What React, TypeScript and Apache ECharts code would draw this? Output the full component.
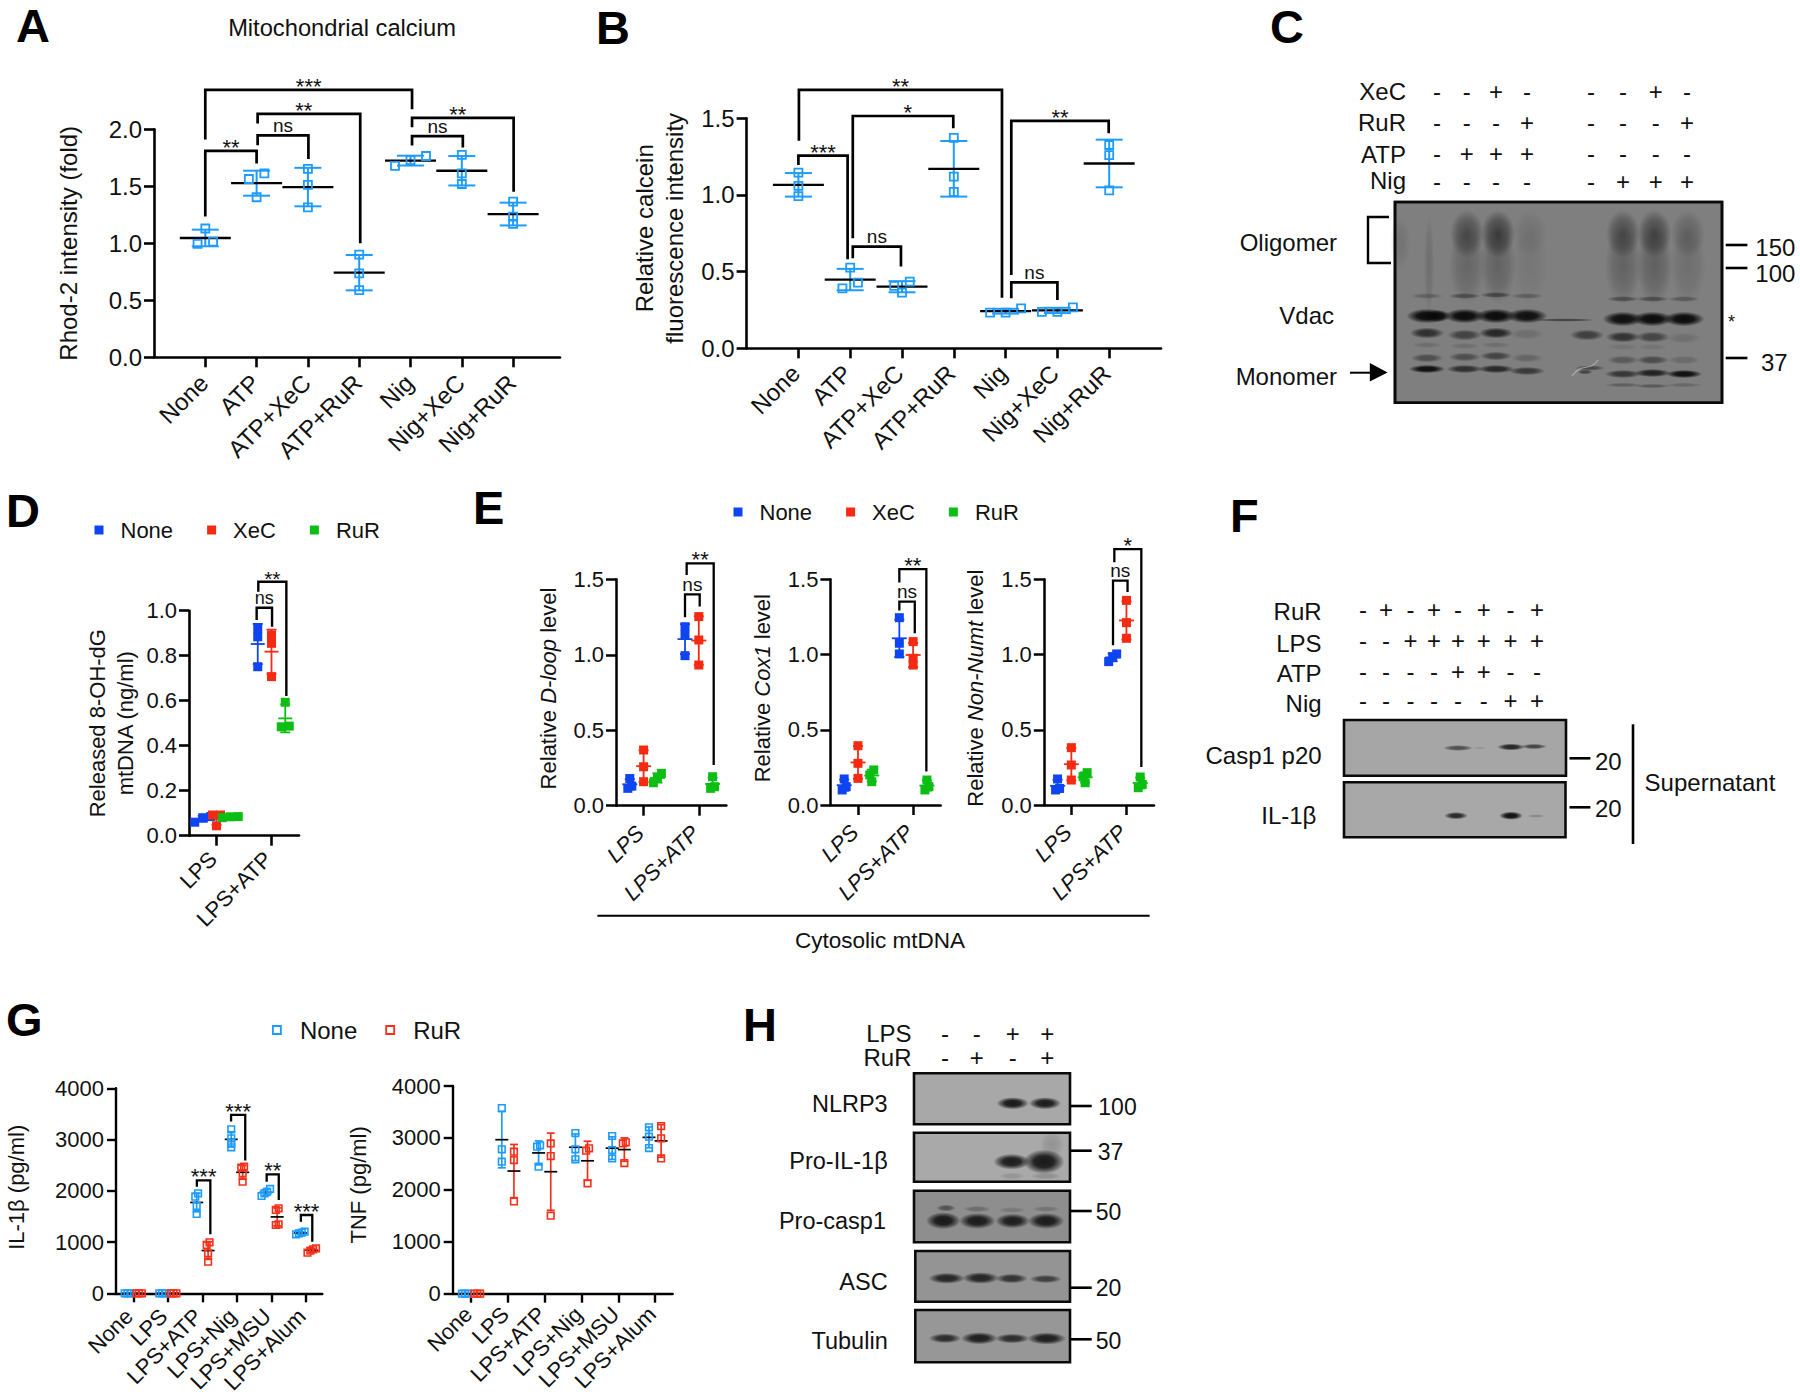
import React, { useEffect, useRef } from "react";
import * as echarts from "echarts";

const FONT = "Liberation Sans";
const BLUE = "#1E9BFF";
const RED = "#F5301A";
const F_BLUE = "#0F45F0";
const F_RED = "#F52A12";
const F_GREEN = "#0CBE14";

const aCategories = ["None", "ATP", "ATP+XeC", "ATP+RuR", "Nig", "Nig+XeC", "Nig+RuR"];
const aValues = [
  [1.13, 0.995, 1.015],
  [1.614, 1.564, 1.404],
  [1.652, 1.512, 1.316],
  [0.9, 0.737, 0.59],
  [1.766, 1.73, 1.68],
  [1.775, 1.614, 1.52],
  [1.366, 1.234, 1.17],
];
const aBrackets: any[] = [
  [1, 5.03, 1.91, 2.175, 2.345, "***"],
  [2.02, 4.02, 2.05, 1.0, 2.135, "**", 2.92],
  [2.02, 3.01, 1.86, 1.74, 1.947, "ns"],
  [1, 2, 1.234, 1.7, 1.81, "**"],
  [5.03, 7.01, 2.017, 1.453, 2.1, "**", 5.92],
  [5.03, 6.02, 1.857, 1.84, 1.94, "ns"],
];

const bValues = [
  [1.146, 1.059, 0.993],
  [0.526, 0.428, 0.391],
  [0.435, 0.407, 0.363],
  [1.372, 1.12, 1.02],
  [0.26, 0.233, 0.233],
  [0.267, 0.237, 0.237],
  [1.326, 1.26, 1.03],
];
const bBrackets: any[] = [
  [1.01, 4.93, 1.354, 0.33, 1.685, "**"],
  [2.05, 3.99, 0.717, 1.435, 1.515, "*", 3.11],
  [5.11, 6.99, 0.478, 1.402, 1.483, "**"],
  [1, 1.95, 1.196, 0.58, 1.257, "***"],
  [2.05, 2.98, 0.587, 0.533, 0.663, "ns"],
  [5.11, 6.0, 0.326, 0.315, 0.43, "ns"],
];

const mtCategories = ["LPS", "LPS+ATP"];
const dNone = [[0.06, 0.08, 0.085], [0.921, 0.884, 0.751]];
const dXeC = [[0.092, 0.092, 0.044], [0.892, 0.855, 0.707]];
const dRuR = [[0.085, 0.084, 0.08], [0.593, 0.487, 0.484]];
const dBrackets: any[] = [
  [1.73, 2.01, 0.959, 0.929, 1.013, "ns"],
  [1.76, 2.27, 1.084, 0.621, 1.129, "**"],
];

const e1None = [[0.18, 0.13, 0.115], [1.186, 1.131, 0.994]];
const e1XeC = [[0.369, 0.258, 0.159], [1.253, 1.098, 0.932]];
const e1RuR = [[0.214, 0.186, 0.152], [0.192, 0.126, 0.115]];
const e1Brackets: any[] = [
  [1.75, 2.016, 1.248, 1.319, 1.4, "ns"],
  [1.78, 2.27, 1.529, 0.27, 1.606, "**"],
];
const e2None = [[0.173, 0.122, 0.1], [1.245, 1.075, 1.004]];
const e2XeC = [[0.394, 0.277, 0.177], [1.086, 0.975, 0.93]];
const e2RuR = [[0.233, 0.2, 0.155], [0.166, 0.122, 0.1]];
const e2Brackets: any[] = [
  [1.75, 2.03, 1.292, 1.141, 1.352, "ns"],
  [1.75, 2.24, 1.478, 0.222, 1.567, "**"],
];
const e3None = [[0.173, 0.11, 0.1], [1.004, 0.986, 0.953]];
const e3XeC = [[0.381, 0.266, 0.166], [1.36, 1.212, 1.108]];
const e3RuR = [[0.215, 0.188, 0.148], [0.186, 0.137, 0.115]];
const e3Brackets: any[] = [
  [1.756, 2.02, 1.061, 1.416, 1.491, "ns"],
  [1.78, 2.27, 1.614, 0.252, 1.7, "*"],
];

const gCategories = ["None", "LPS", "LPS+ATP", "LPS+Nig", "LPS+MSU", "LPS+Alum"];
const ilNone = [
  [0, 0, 0],
  [0, 0, 0],
  [1951, 1886, 1704, 1548],
  [3200, 3024, 2940, 2849],
  [2036, 1984, 1951, 1899],
  [1203, 1184, 1171, 1151],
];
const ilRuR = [
  [0, 0, 0],
  [0, 0, 0],
  [995, 943, 780, 618],
  [2471, 2452, 2341, 2179],
  [1658, 1626, 1346, 1333],
  [878, 859, 832, 793],
];
const ilBrackets: any[] = [
  [2.84, 3.23, 2081, 1151, 2205, "***"],
  [3.83, 4.24, 3350, 2589, 3480, "***"],
  [4.86, 5.21, 2179, 1821, 2322, "**"],
  [5.85, 6.18, 1398, 1008, 1528, "***"],
];
const tnfNone = [
  [0, 0, 0],
  [3576, 2780, 2542],
  [2857, 2831, 2446],
  [3094, 2780, 2587],
  [3037, 2767, 2606],
  [3204, 3024, 2805],
];
const tnfRuR = [
  [0, 0, 0],
  [2735, 2574, 1778],
  [2895, 2651, 1502],
  [2799, 2754, 2125],
  [2915, 2895, 2516],
  [3229, 2992, 2606],
];

// Treatment rows printed above the blots
const cRows: [string, string][] = [
  ["XeC", "--+---+-"],
  ["RuR", "---+---+"],
  ["ATP", "-+++----"],
  ["Nig", "-----+++"],
];
const fRows: [string, string][] = [
  ["RuR", "-+-+-+-+"],
  ["LPS", "--++++++"],
  ["ATP", "----++--"],
  ["Nig", "------++"],
];
const hRows: [string, string][] = [
  ["LPS", "--++"],
  ["RuR", "-+-+"],
];

const mean = (v: number[]) => v.reduce((a, b) => a + b, 0) / v.length;
const sd = (v: number[]) => {
  const m = mean(v);
  return Math.sqrt(v.reduce((a, b) => a + (b - m) * (b - m), 0) / (v.length - 1));
};

// Swarm placement: values closer than tol pixels sit side by side.
function swarm(values: number[], pxY: number, tol: number, step: number) {
  const order = values.map((v, i) => [v, i]).sort((a, b) => a[0] - b[0]);
  const out = new Array(values.length).fill(0);
  let start = 0;
  for (let i = 1; i <= order.length; i++) {
    if (i === order.length || (order[i][0] - order[i - 1][0]) * pxY > tol) {
      const n = i - start;
      for (let k = 0; k < n; k++) out[order[start + k][1]] = (k - (n - 1) / 2) * step;
      start = i;
    }
  }
  return out;
}

function txt(x: number, y: number, text: string, align = "left", size = 24, extra: any = {}) {
  return {
    type: "text",
    x,
    y,
    silent: true,
    style: {
      text,
      fontSize: size,
      fontFamily: FONT,
      fill: "#111",
      align,
      textAlign: align,
      verticalAlign: "middle",
      textVerticalAlign: "middle",
      ...extra,
    },
  };
}
function seg(x1: number, y1: number, x2: number, y2: number, w = 2.5) {
  return { type: "line", silent: true, shape: { x1, y1, x2, y2 }, style: { stroke: "#000", lineWidth: w } };
}
function box(x1: number, y1: number, x2: number, y2: number, fill: string) {
  return {
    type: "rect",
    silent: true,
    shape: { x: x1, y: y1, width: x2 - x1, height: y2 - y1 },
    style: { fill, stroke: "#0a0a0a", lineWidth: 2.6 },
  };
}
function band(cx: number, cy: number, rx: number, ry: number, a: number) {
  return {
    type: "ellipse",
    silent: true,
    shape: { cx, cy, rx: rx * 1.08, ry: ry * 1.22 },
    style: {
      fill: {
        type: "radial",
        x: 0.5,
        y: 0.5,
        r: 0.5,
        colorStops: [
          { offset: 0, color: `rgba(8,8,8,${a})` },
          { offset: 0.48, color: `rgba(8,8,8,${a * 0.92})` },
          { offset: 0.78, color: `rgba(8,8,8,${a * 0.42})` },
          { offset: 1, color: "rgba(8,8,8,0)" },
        ],
      },
    },
  };
}
function smear(cx: number, cy: number, rx: number, ry: number, a: number) {
  return {
    type: "ellipse",
    silent: true,
    shape: { cx, cy, rx, ry },
    style: {
      fill: {
        type: "radial",
        x: 0.5,
        y: 0.5,
        r: 0.5,
        colorStops: [
          { offset: 0, color: `rgba(20,20,20,${a})` },
          { offset: 0.6, color: `rgba(20,20,20,${a * 0.6})` },
          { offset: 1, color: "rgba(20,20,20,0)" },
        ],
      },
    },
  };
}
function signs(rows: [string, string][], xs: number[], ys: number[], labelX: number, labelYs: number[]) {
  const out: any[] = [];
  rows.forEach(([name, row], r) => {
    out.push(txt(labelX, labelYs[r], name, "right", 24));
    row.split("").forEach((ch, i) => out.push(txt(xs[i], ys[r], ch, "center", 24)));
  });
  return out;
}

const grids: any[] = [];
const xAxes: any[] = [];
const yAxes: any[] = [];
const series: any[] = [];

function addPanel(p: any) {
  const idx = grids.length;
  grids.push({ left: p.left, top: p.top, width: p.width, height: p.height, containLabel: false });
  const ticks = p.categories.map((_: string, i: number) => i + 1);
  const lw = p.lw ?? 2.6;
  xAxes.push({
    gridIndex: idx,
    type: "value",
    min: p.xMin,
    max: p.xMax,
    splitLine: { show: false },
    axisLine: { show: true, onZero: false, lineStyle: { color: "#000", width: lw } },
    axisTick: { show: true, length: p.tick ?? 10, lineStyle: { color: "#000", width: lw }, customValues: ticks },
    axisLabel: {
      customValues: ticks,
      rotate: 45,
      margin: p.xMargin ?? 14,
      padding: [0, p.xPad ?? 0, 0, 0],
      fontSize: p.xFont ?? p.fontSize ?? 22,
      fontFamily: FONT,
      fontStyle: p.italicX ? "italic" : "normal",
      color: "#111",
      formatter: (v: number) => p.categories[Math.round(v) - 1],
    },
  });
  yAxes.push({
    gridIndex: idx,
    type: "value",
    min: 0,
    max: p.yMax,
    interval: p.yInterval,
    splitLine: { show: false },
    axisLine: { show: true, onZero: false, lineStyle: { color: "#000", width: lw } },
    axisTick: { show: true, length: p.tick ?? 10, lineStyle: { color: "#000", width: lw } },
    axisLabel: {
      margin: p.yMargin ?? 12,
      fontSize: p.fontSize ?? 22,
      fontFamily: FONT,
      color: "#111",
      formatter: (v: number) => v.toFixed(p.decimals),
    },
    name: p.yName,
    nameLocation: "middle",
    nameGap: p.nameGap,
    nameRotate: 90,
    nameTextStyle: {
      fontSize: p.nameSize ?? 22,
      fontFamily: FONT,
      color: "#111",
      lineHeight: p.nameLine ?? 30,
      padding: [0, 0, 0, p.nameShift ?? 0],
      rich: { i: { fontStyle: "italic", fontSize: p.nameSize ?? 22, fontFamily: FONT, color: "#111" } },
    },
  });
  const pxY = p.height / p.yMax;
  const pxX = p.width / (p.xMax - p.xMin);
  p.groups.forEach((g: any) => {
    const stats = g.values.map((v: number[], i: number) => [i + 1 + (g.dodge ?? 0), mean(v), sd(v)]);
    series.push({
      type: "custom",
      coordinateSystem: "cartesian2d",
      xAxisIndex: idx,
      yAxisIndex: idx,
      silent: true,
      z: 2,
      data: stats,
      renderItem: (_: any, api: any) => {
        const x = api.value(0);
        const m = api.value(1);
        const s = api.value(2);
        const top = api.coord([x, m + s]);
        const bot = api.coord([x, m - s]);
        const mid = api.coord([x, m]);
        const lineStyle = { stroke: g.color, lineWidth: p.barW ?? 2 };
        const hl = (pt: number[], w: number, style: any) => ({
          type: "line",
          shape: { x1: pt[0] - w / 2, y1: pt[1], x2: pt[0] + w / 2, y2: pt[1] },
          style,
        });
        return {
          type: "group",
          children: [
            { type: "line", shape: { x1: top[0], y1: top[1], x2: bot[0], y2: bot[1] }, style: lineStyle },
            hl(top, p.capW, lineStyle),
            hl(bot, p.capW, lineStyle),
            hl(mid, p.meanW, { stroke: p.meanColor ?? g.color, lineWidth: p.meanLw ?? 2.3 }),
          ],
        };
      },
    });
    const pts: number[][] = [];
    g.values.forEach((v: number[], i: number) => {
      const off = swarm(v, pxY, p.tol, p.step);
      v.forEach((y, k) => pts.push([i + 1 + (g.dodge ?? 0) + off[k] / pxX, y]));
    });
    series.push({
      type: "scatter",
      name: g.name,
      xAxisIndex: idx,
      yAxisIndex: idx,
      silent: true,
      clip: false,
      z: 3,
      symbol: "rect",
      symbolSize: p.size,
      data: pts,
      itemStyle: g.filled
        ? { color: g.color, opacity: 1 }
        : { color: "rgba(255,255,255,0)", borderColor: g.color, borderWidth: p.border ?? 1.8, opacity: 1 },
    });
  });
  if (p.brackets) {
    const br = p.brackets;
    series.push({
      type: "custom",
      coordinateSystem: "cartesian2d",
      xAxisIndex: idx,
      yAxisIndex: idx,
      silent: true,
      z: 4,
      data: br.map((b: any[]) => b.slice(0, 5)),
      renderItem: (params: any, api: any) => {
        const [x1, x2, yl, yr, top, label, lx] = br[params.dataIndex];
        const pts = [api.coord([x1, yl]), api.coord([x1, top]), api.coord([x2, top]), api.coord([x2, yr])];
        const at = api.coord([lx ?? (x1 + x2) / 2, top]);
        const isNs = label === "ns";
        return {
          type: "group",
          children: [
            { type: "polyline", shape: { points: pts }, style: { fill: "none", stroke: "#000", lineWidth: p.brW ?? 2.7 } },
            {
              type: "text",
              x: at[0],
              y: at[1] - (isNs ? 10 : 3.5),
              style: {
                text: label,
                fontSize: isNs ? p.nsSize ?? 19 : p.starSize ?? 22,
                fontFamily: FONT,
                fill: "#111",
                align: "center",
                textAlign: "center",
                verticalAlign: "middle",
                textVerticalAlign: "middle",
              },
            },
          ],
        };
      },
    });
  }
}

const hollow = (color: string, name: string, values: number[][], dodge: number) => ({ name, color, values, dodge, filled: false });
const solid = (color: string, name: string, values: number[][], dodge: number) => ({ name, color, values, dodge, filled: true });

addPanel({
  left: 154, top: 129.3, width: 406, height: 228, xMin: 0, xMax: 7.914, yMax: 2, yInterval: 0.5, decimals: 1,
  categories: aCategories, yName: "Rhod-2 intensity (fold)", nameGap: 71, nameSize: 24, fontSize: 24, xMargin: 20, xPad: 2,
  groups: [hollow(BLUE, "A", aValues, 0)], meanColor: "#000", meanW: 51, capW: 27, size: 8, tol: 6, step: 15.5, brackets: aBrackets,
});
addPanel({
  left: 746.6, top: 118.3, width: 414.4, height: 230, xMin: 0, xMax: 8, yMax: 1.5, yInterval: 0.5, decimals: 1,
  categories: aCategories, yName: "Relative calcein\nfluorescence intensity", nameGap: 57, nameSize: 24, fontSize: 24, nameShift: 10, xMargin: 18, xPad: 4,
  groups: [hollow(BLUE, "B", bValues, 0)], meanColor: "#000", meanW: 51, capW: 27, size: 8, tol: 6, step: 15.5, brackets: bBrackets,
});
addPanel({
  left: 189, top: 610.7, width: 110, height: 225, xMin: 0.5, xMax: 2.5, yMax: 1, yInterval: 0.2, decimals: 1,
  categories: mtCategories, yName: "Released 8-OH-dG\nmtDNA (ng/ml)", nameGap: 50, nameLine: 28, xMargin: 16, xPad: 5,
  groups: [solid(F_BLUE, "None", dNone, -0.25), solid(F_RED, "XeC", dXeC, 0), solid(F_GREEN, "RuR", dRuR, 0.25)],
  meanW: 14, capW: 10, size: 9, tol: 5, step: 8, brackets: dBrackets, brW: 2.4, barW: 1.8, meanLw: 1.8, nsSize: 18, starSize: 21,
});
const ePanel = (left: number, width: number, height: number, yName: string, n: number[][], x: number[][], r: number[][], brackets: any[]) =>
  addPanel({
    left, top: 579.3, width, height, xMin: 0.5, xMax: 2.5, yMax: 1.5, yInterval: 0.5, decimals: 1, italicX: true,
    categories: mtCategories, yName, nameGap: 53, nameShift: 8, xMargin: 20, xPad: 5,
    groups: [solid(F_BLUE, "None", n, -0.25), solid(F_RED, "XeC", x, 0), solid(F_GREEN, "RuR", r, 0.25)],
    meanW: 15, capW: 10, size: 9, tol: 5.5, step: 4, brackets, brW: 2.3, barW: 1.8, meanLw: 1.8, lw: 2.5,
  });
ePanel(616, 110.4, 226.4, "Relative {i|D-loop} level", e1None, e1XeC, e1RuR, e1Brackets);
ePanel(830.4, 110.3, 225.7, "Relative {i|Cox1} level", e2None, e2XeC, e2RuR, e2Brackets);
ePanel(1043.8, 110.2, 225.7, "Relative {i|Non-Numt} level", e3None, e3XeC, e3RuR, e3Brackets);
addPanel({
  left: 105.3, top: 1088.3, width: 217, height: 205, xMin: 0.5, xMax: 6.47, yMax: 4000, yInterval: 1000, decimals: 0,
  categories: gCategories, yName: "IL-1\u03B2 (pg/ml)", nameGap: 85, nameShift: 7, xMargin: 15, xPad: 6,
  groups: [hollow(BLUE, "None", ilNone, -0.165), hollow(RED, "RuR", ilRuR, 0.165)],
  meanColor: "#000", meanW: 13, capW: 8, size: 6.6, tol: 3.4, step: 3, brackets: ilBrackets, brW: 2.3, barW: 1.7, meanLw: 1.7, border: 1.6, lw: 2.4, tick: 9,
});
addPanel({
  left: 452.7, top: 1086, width: 220, height: 207.7, xMin: 0.5, xMax: 6.48, yMax: 4000, yInterval: 1000, decimals: 0,
  categories: gCategories, yName: "TNF (pg/ml)", nameGap: 79, nameShift: 10, xMargin: 14, xPad: 4,
  groups: [hollow(BLUE, "None", tnfNone, -0.165), hollow(RED, "RuR", tnfRuR, 0.165)],
  meanColor: "#000", meanW: 13, capW: 8, size: 6.6, tol: 3.4, step: 3, barW: 1.7, meanLw: 1.7, border: 1.6, lw: 2.4, tick: 9,
});

const filledLegend = (left: number, top: number) => ({
  left, top, orient: "horizontal", itemWidth: 9, itemHeight: 9, itemGap: 34, selectedMode: false, padding: 0,
  icon: "rect",
  textStyle: { fontSize: 22, fontFamily: FONT, color: "#111", padding: [0, 0, 0, 12] },
  data: [
    { name: "None", icon: "rect", itemStyle: { color: F_BLUE, borderWidth: 0 } },
    { name: "XeC", icon: "rect", itemStyle: { color: F_RED, borderWidth: 0 } },
    { name: "RuR", icon: "rect", itemStyle: { color: F_GREEN, borderWidth: 0 } },
  ],
});
const legends = [
  filledLegend(94.5, 519),
  filledLegend(733.5, 501),
  {
    left: 272, top: 1018, orient: "horizontal", itemWidth: 8, itemHeight: 8, itemGap: 28, selectedMode: false, padding: 0,
    textStyle: { fontSize: 24, fontFamily: FONT, color: "#111", padding: [0, 0, 0, 14] },
    data: [
      { name: "None", icon: "rect", itemStyle: { color: "rgba(255,255,255,0)", borderColor: BLUE, borderWidth: 1.8 } },
      { name: "RuR", icon: "rect", itemStyle: { color: "rgba(255,255,255,0)", borderColor: RED, borderWidth: 1.8 } },
    ],
  },
];

function panelLetters() {
  const letters: [string, number, number][] = [
    ["A", 16, 49], ["B", 596, 51], ["C", 1270, 50], ["D", 6, 534], ["E", 473, 531], ["F", 1230, 539], ["G", 6, 1043], ["H", 743, 1048],
  ];
  return letters.map(([t, x, y]) => ({
    type: "text", x, y, silent: true,
    style: { text: t, fontSize: 47, fontWeight: "bold", fontFamily: FONT, fill: "#000", align: "left", textAlign: "left", verticalAlign: "bottom", textVerticalAlign: "bottom" },
  }));
}

function blotC() {
  const L = [1427, 1464.7, 1496, 1527, 1587, 1623, 1652.5, 1684];
  const out: any[] = [];
  out.push(...signs(cRows, [1437, 1466.7, 1496, 1527, 1591, 1623, 1655.7, 1687], [91, 122, 153, 181], 1406, [91, 122, 154, 180]));
  out.push(box(1395, 202, 1722, 402.7, "#7f7f7f"));
  out.push(smear(1400, 243, 10, 26, 0.12));
  // oligomer smears
  ([[1467, 0.5, 0.24], [1498, 0.62, 0.28], [1530, 0.12, 0.08], [1623, 0.5, 0.28], [1654.5, 0.55, 0.3], [1688, 0.27, 0.16]] as number[][]).forEach(([x, a, b]) => {
    out.push(smear(x, 234, 17, 24, a));
    out.push(smear(x, 265, 18, 40, b));
  });
  out.push(smear(1429, 265, 5, 50, 0.16));
  // faint band above the Vdac band
  ([[0, 296, 0.24], [1, 296, 0.4], [2, 295, 0.45], [3, 296, 0.26], [5, 299, 0.4], [6, 299, 0.4], [7, 299, 0.3]] as number[][]).forEach(([l, y, a]) => out.push(band(L[l], y, 15, 2.4, a)));
  // Vdac band
  ([[0, 316, 0.98], [1, 316, 0.98], [2, 316, 0.98], [3, 316, 0.94], [5, 319, 0.95], [6, 319, 0.98], [7, 319, 0.98]] as number[][]).forEach(([l, y, a]) => out.push(band(L[l], y, 19, 6, a)));
  out.push(band(1438, 316, 12, 5, 0.9));
  out.push(band(1565, 320, 28, 1.4, 0.5));
  // bands under Vdac
  ([[0, 333, 0.68], [1, 335, 0.52], [2, 333, 0.75], [3, 334, 0.14], [4, 335, 0.55], [5, 337, 0.65], [6, 337, 0.5], [7, 338, 0.13]] as number[][]).forEach(([l, y, a]) => out.push(band(L[l], y, 16, 4.5, a)));
  ([[0, 345, 0.14], [1, 346, 0.14], [2, 345, 0.14], [5, 347, 0.1], [6, 347, 0.1]] as number[][]).forEach(([l, y, a]) => out.push(band(L[l], y, 14, 2.5, a)));
  ([[0, 358, 0.42], [1, 357, 0.42], [2, 356, 0.5], [3, 358, 0.22], [5, 360, 0.32], [6, 360, 0.44], [7, 360, 0.18]] as number[][]).forEach(([l, y, a]) => out.push(band(L[l], y, 15, 3.6, a)));
  // monomer band
  ([[0, 369, 0.95], [1, 369, 0.68], [2, 369, 0.74], [3, 371, 0.6], [5, 374, 0.62], [6, 373, 0.8], [7, 374, 0.95]] as number[][]).forEach(([l, y, a]) => out.push(band(L[l], y, 17, 3.4, a)));
  out.push(band(1590, 368, 14, 2.2, 0.45));
  out.push(band(1585, 372, 7, 2, 0.5));
  out.push({ type: "bezierCurve", silent: true, shape: { x1: 1572, y1: 376, x2: 1598, y2: 360, cpx1: 1582, cpy1: 362, cpx2: 1590, cpy2: 372 }, style: { stroke: "#ccc", fill: "none", lineWidth: 1.2, opacity: 0.6 } });
  ([[5, 385, 0.28], [6, 386, 0.32], [7, 385, 0.2]] as number[][]).forEach(([l, y, a]) => out.push(band(L[l], y, 17, 1.8, a)));
  out.push({ type: "rect", silent: true, shape: { x: 1395, y: 202, width: 327, height: 200.7 }, style: { fill: "none", stroke: "#0a0a0a", lineWidth: 2.6 } });
  out.push(txt(1337, 242, "Oligomer", "right"), txt(1334, 315, "Vdac", "right"), txt(1337, 376, "Monomer", "right"));
  out.push({ type: "polyline", silent: true, shape: { points: [[1389, 217], [1368, 217], [1368, 263], [1391, 263]] }, style: { fill: "none", stroke: "#000", lineWidth: 2.4 } });
  out.push(seg(1350, 372.7, 1372, 372.7, 2));
  out.push({ type: "polygon", silent: true, shape: { points: [[1369.8, 363], [1387.6, 372.5], [1369.8, 381.5]] }, style: { fill: "#000" } });
  out.push(seg(1725.7, 245, 1747.4, 245, 2.6), seg(1725.7, 268, 1747.4, 268, 2.6), seg(1725.7, 358, 1747.4, 358, 2.6));
  out.push(txt(1755.3, 247, "150"), txt(1755.3, 273, "100"), txt(1761, 362, "37"), txt(1731.6, 322, "*", "center", 18));
  return out;
}

function blotF() {
  const out: any[] = [];
  out.push(...signs(fRows, [1363, 1386, 1410.5, 1433.9, 1458, 1483.7, 1510.6, 1537], [609.5, 640, 671, 700], 1321.6, [611, 643, 673, 703]));
  out.push(box(1344, 720, 1566, 775.7, "#a6a6a6"), box(1344, 782.3, 1565.5, 837.3, "#a8a8a8"));
  out.push(band(1458, 748, 14, 2.4, 0.55), band(1480, 748, 6, 1.2, 0.1), band(1511, 747, 13, 2.8, 0.82), band(1534, 746.5, 12, 2.2, 0.62));
  out.push(band(1456, 815.7, 11, 3, 0.8), band(1511, 815.7, 11, 3.4, 0.95), band(1536, 816, 8, 1.4, 0.2));
  out.push(txt(1321.6, 755, "Casp1 p20", "right"), txt(1316.4, 815, "IL-1\u03B2", "right"));
  out.push(seg(1569.5, 758.3, 1590.4, 758.3, 2.6), seg(1569.5, 807.3, 1590.4, 807.3, 2.6));
  out.push(txt(1595, 761, "20"), txt(1595, 808, "20"));
  out.push(seg(1633, 724.3, 1633, 844, 2.6));
  out.push(txt(1644.6, 782, "Supernatant"));
  return out;
}

function blotH() {
  const out: any[] = [];
  out.push(...signs(hRows, [945, 976.7, 1012.7, 1047.3], [1033, 1057], 911.5, [1033, 1057]));
  out.push(
    box(914, 1073.3, 1070, 1124.3, "#a8a8a8"),
    box(914, 1132.7, 1070, 1181.7, "#a9a9a9"),
    box(914, 1190.7, 1070, 1242.3, "#8e8e8e"),
    box(915.3, 1251, 1070, 1301.7, "#949494"),
    box(915.3, 1310, 1070, 1362.3, "#979797"),
  );
  out.push(band(1012.7, 1103.3, 15, 5, 0.9), band(1045, 1103.3, 15, 5, 0.88));
  out.push(band(1011.7, 1161.7, 17, 6.5, 0.88), band(1044, 1161.7, 19, 10, 0.9), band(1012, 1176, 12, 3, 0.12), band(1046, 1176, 14, 3, 0.15), smear(1052, 1145, 12, 14, 0.15));
  out.push(band(943.3, 1220.7, 16, 7, 0.88), band(977.3, 1221, 17, 6.5, 0.86), band(1012.7, 1221, 16, 6, 0.84), band(1046, 1221, 17, 6.5, 0.86));
  out.push(band(946, 1208, 9, 2.8, 0.45), band(977, 1209, 13, 2.6, 0.25), band(1012, 1210, 13, 2.4, 0.16), band(1046, 1209, 13, 2.4, 0.2));
  out.push(band(946.7, 1278.3, 17, 4.5, 0.8), band(980.7, 1278, 17, 4.8, 0.8), band(1011.7, 1278.5, 15, 4, 0.7), band(1045.7, 1279, 15, 3.4, 0.62));
  out.push(band(945, 1338.3, 15, 4, 0.75), band(979.3, 1338.3, 17, 5, 0.85), band(1012.3, 1338.5, 16, 4, 0.75), band(1046.7, 1338.5, 18, 5, 0.85));
  const names: [string, number, number][] = [["NLRP3", 887.7, 1104.3], ["Pro-IL-1\u03B2", 887.7, 1160.7], ["Pro-casp1", 886, 1220.7], ["ASC", 887.7, 1281.7], ["Tubulin", 887.7, 1340.7]];
  names.forEach(([t, x, y]) => out.push(txt(x, y, t, "right", 23.5)));
  const marks: [string, number, number, number][] = [["100", 1106, 1098.3, 1107.3], ["37", 1150.7, 1097.7, 1151.7], ["50", 1211, 1095.7, 1212], ["20", 1287.7, 1095.7, 1288], ["50", 1339.3, 1095.7, 1340.7]];
  marks.forEach(([t, ty, x, y]) => {
    out.push(seg(1070.7, ty, 1091.7, ty, 2.6));
    out.push(txt(x, y, t, "left", 23));
  });
  return out;
}

function otherGraphics() {
  return [
    txt(342, 28, "Mitochondrial calcium", "center", 23.7),
    seg(597.4, 915.7, 1149.6, 915.7, 2),
    txt(880, 940, "Cytosolic mtDNA", "center", 22.5),
  ];
}

export default function App() {
  const ref = useRef<HTMLDivElement>(null);
  useEffect(() => {
    document.body.style.margin = "0";
    const chart = echarts.init(ref.current!, null, { renderer: "svg" });
    chart.setOption({
      animation: false,
      backgroundColor: "#fff",
      textStyle: { fontFamily: FONT },
      grid: grids,
      xAxis: xAxes,
      yAxis: yAxes,
      legend: legends,
      series,
      graphic: { elements: [...panelLetters(), ...otherGraphics(), ...blotC(), ...blotF(), ...blotH()] },
    });
    return () => chart.dispose();
  }, []);
  return <div ref={ref} style={{ width: 1800, height: 1397 }} />;
}
